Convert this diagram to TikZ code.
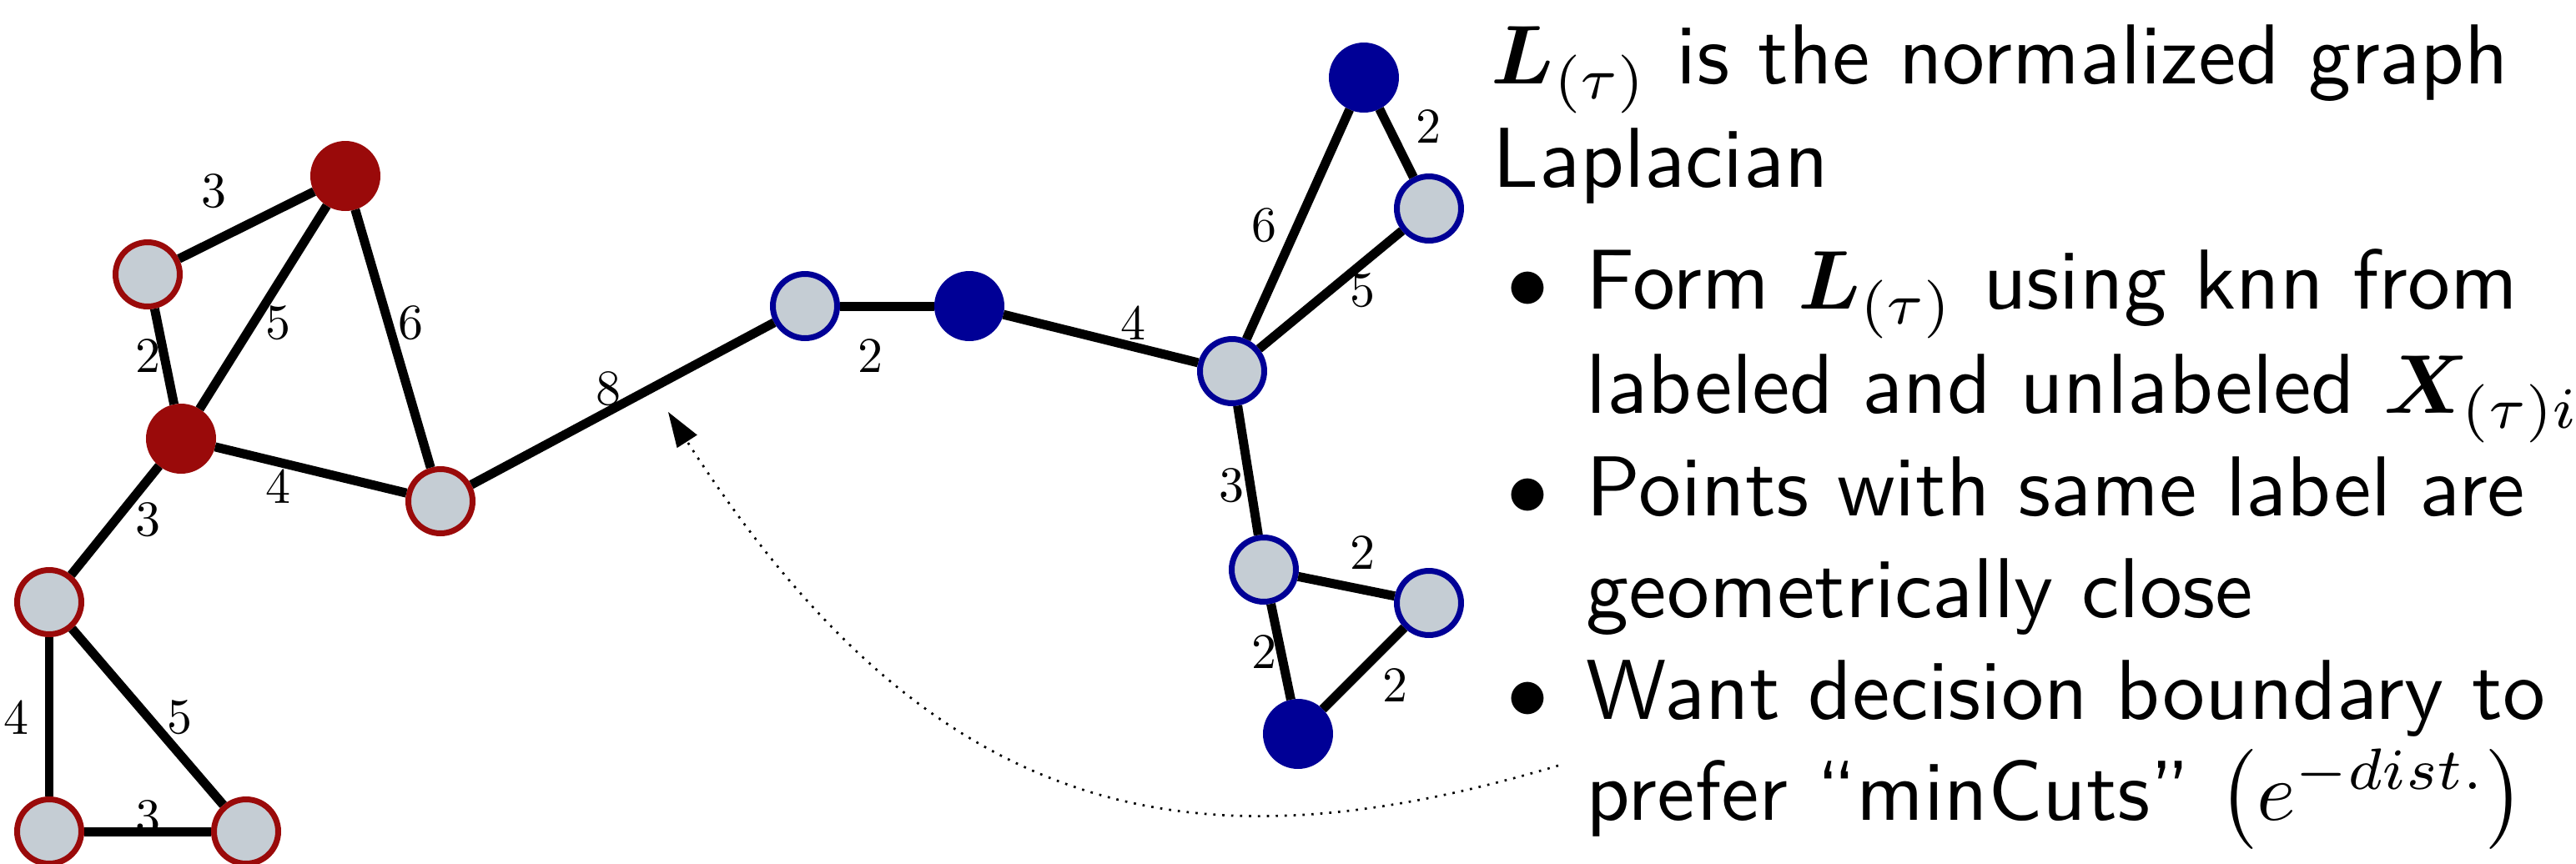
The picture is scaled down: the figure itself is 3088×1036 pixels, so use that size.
\documentclass[tikz,border=0pt]{standalone}
\usepackage{amsmath,bm}
\usepackage{graphicx}
\usetikzlibrary{arrows.meta}
\definecolor{lblred}{HTML}{9A0A0A}
\definecolor{lblblue}{HTML}{000096}
\definecolor{unlab}{HTML}{C5CDD4}
% edge weights: roman digits at reduced scale
\newcommand{\wgt}[1]{\scalebox{0.6}{#1}}
\begin{document}
\begin{tikzpicture}[x=0.1pt,y=-0.1pt,
  vtx/.style={circle,minimum size=7.7pt,inner sep=0pt,line width=0.7pt},
  redlab/.style={vtx,fill=lblred,draw=lblred},
  redunl/.style={vtx,fill=unlab,draw=lblred},
  bluelab/.style={vtx,fill=lblblue,draw=lblblue},
  blueunl/.style={vtx,fill=unlab,draw=lblblue},
  link/.style={line width=1.1pt},
  wlbl/.style={inner sep=0pt,font=\normalfont},
  txt/.style={anchor=base west,inner sep=0pt,font=\fontsize{10.2}{12.2}\selectfont\sffamily},
  hint/.style={line width=0.27pt,dash pattern=on 0.27pt off 0.8pt,
    -{Triangle[length=4.2pt,width=2.8pt]}}
]
\useasboundingbox[fill=white] (0,0) rectangle (3088,1036);

% red cluster
\node[redlab] (rt)  at (414,211) {};
\node[redunl] (rl)  at (177,329) {};
\node[redlab] (rm)  at (217,526) {};
\node[redunl] (rbr) at (528,601) {};
\node[redunl] (rll) at (59,722) {};
\node[redunl] (rbl) at (59,997) {};
\node[redunl] (rbb) at (295,997) {};

% blue cluster
\node[blueunl] (b1) at (965,367) {};
\node[bluelab] (b2) at (1162,367) {};
\node[blueunl] (b3) at (1477,445) {};
\node[bluelab] (bt) at (1635,93) {};
\node[blueunl] (btr) at (1713,250) {};
\node[blueunl] (b4) at (1515,683) {};
\node[blueunl] (b5) at (1713,723) {};
\node[bluelab] (b6) at (1556,880) {};

% edges
\draw[link] (rl) -- (rt);
\draw[link] (rl) -- (rm);
\draw[link] (rm) -- (rt);
\draw[link] (rt) -- (rbr);
\draw[link] (rm) -- (rbr);
\draw[link] (rm) -- (rll);
\draw[link] (rll) -- (rbl);
\draw[link] (rll) -- (rbb);
\draw[link] (rbl) -- (rbb);
\draw[link] (rbr) -- (b1);
\draw[link] (b1) -- (b2);
\draw[link] (b2) -- (b3);
\draw[link] (b3) -- (bt);
\draw[link] (b3) -- (btr);
\draw[link] (bt) -- (btr);
\draw[link] (b3) -- (b4);
\draw[link] (b4) -- (b5);
\draw[link] (b4) -- (b6);
\draw[link] (b5) -- (b6);

% edge weights
\node[wlbl] (w1)  at (256,229) {\wgt{3}};
\node[wlbl] (w2)  at (177,427) {\wgt{2}};
\node[wlbl] (w3)  at (334,387) {\wgt{5}};
\node[wlbl] (w4)  at (493,387) {\wgt{6}};
\node[wlbl] (w5)  at (333,583) {\wgt{4}};
\node[wlbl] (w6)  at (177,623) {\wgt{3}};
\node[wlbl] (w7)  at (20,860)  {\wgt{4}};
\node[wlbl] (w8)  at (216,860) {\wgt{5}};
\node[wlbl] (w9)  at (177,980) {\wgt{3}};
\node[wlbl] (w10) at (729,466) {\wgt{8}};
\node[wlbl] (w11) at (1043,427) {\wgt{2}};
\node[wlbl] (w12) at (1359,387) {\wgt{4}};
\node[wlbl] (w13) at (1516,270) {\wgt{6}};
\node[wlbl] (w14) at (1633,348) {\wgt{5}};
\node[wlbl] (w15) at (1713,152) {\wgt{2}};
\node[wlbl] (w16) at (1477,582) {\wgt{3}};
\node[wlbl] (w17) at (1634,663) {\wgt{2}};
\node[wlbl] (w18) at (1516,782) {\wgt{2}};
\node[wlbl] (w19) at (1673,822) {\wgt{2}};

% explanatory text
\node[txt] (t1) at (1786,100) {$\bm{L}_{(\tau)}$ is the normalized graph};
\node[txt] (t2) at (1788,224) {Laplacian};
\node[txt] (t3) at (1900,370) {\llap{$\bullet$\hspace{4.5pt}}Form $\bm{L}_{(\tau)}$ using knn from};
\node[txt] (t4) at (1900,495) {labeled and unlabeled $\bm{X}_{(\tau)i}$};
\node[txt] (t5) at (1900,618) {\llap{$\bullet$\hspace{4.5pt}}Points with same label are};
\node[txt] (t6) at (1900,740) {geometrically close};
\node[txt] (t7) at (1900,862) {\llap{$\bullet$\hspace{4.5pt}}Want decision boundary to};
\node[txt] (t8) at (1900,983) {prefer ``minCuts'' $\left(e^{-dist.}\right)$};

% pointer from the min-cut remark to the weak edge
\coordinate (from) at (1868,918);
\coordinate (tip) at (801,494);
\draw[hint] (from) .. controls (1440,1045) and (1125,998) .. (tip);
\end{tikzpicture}
\end{document}
